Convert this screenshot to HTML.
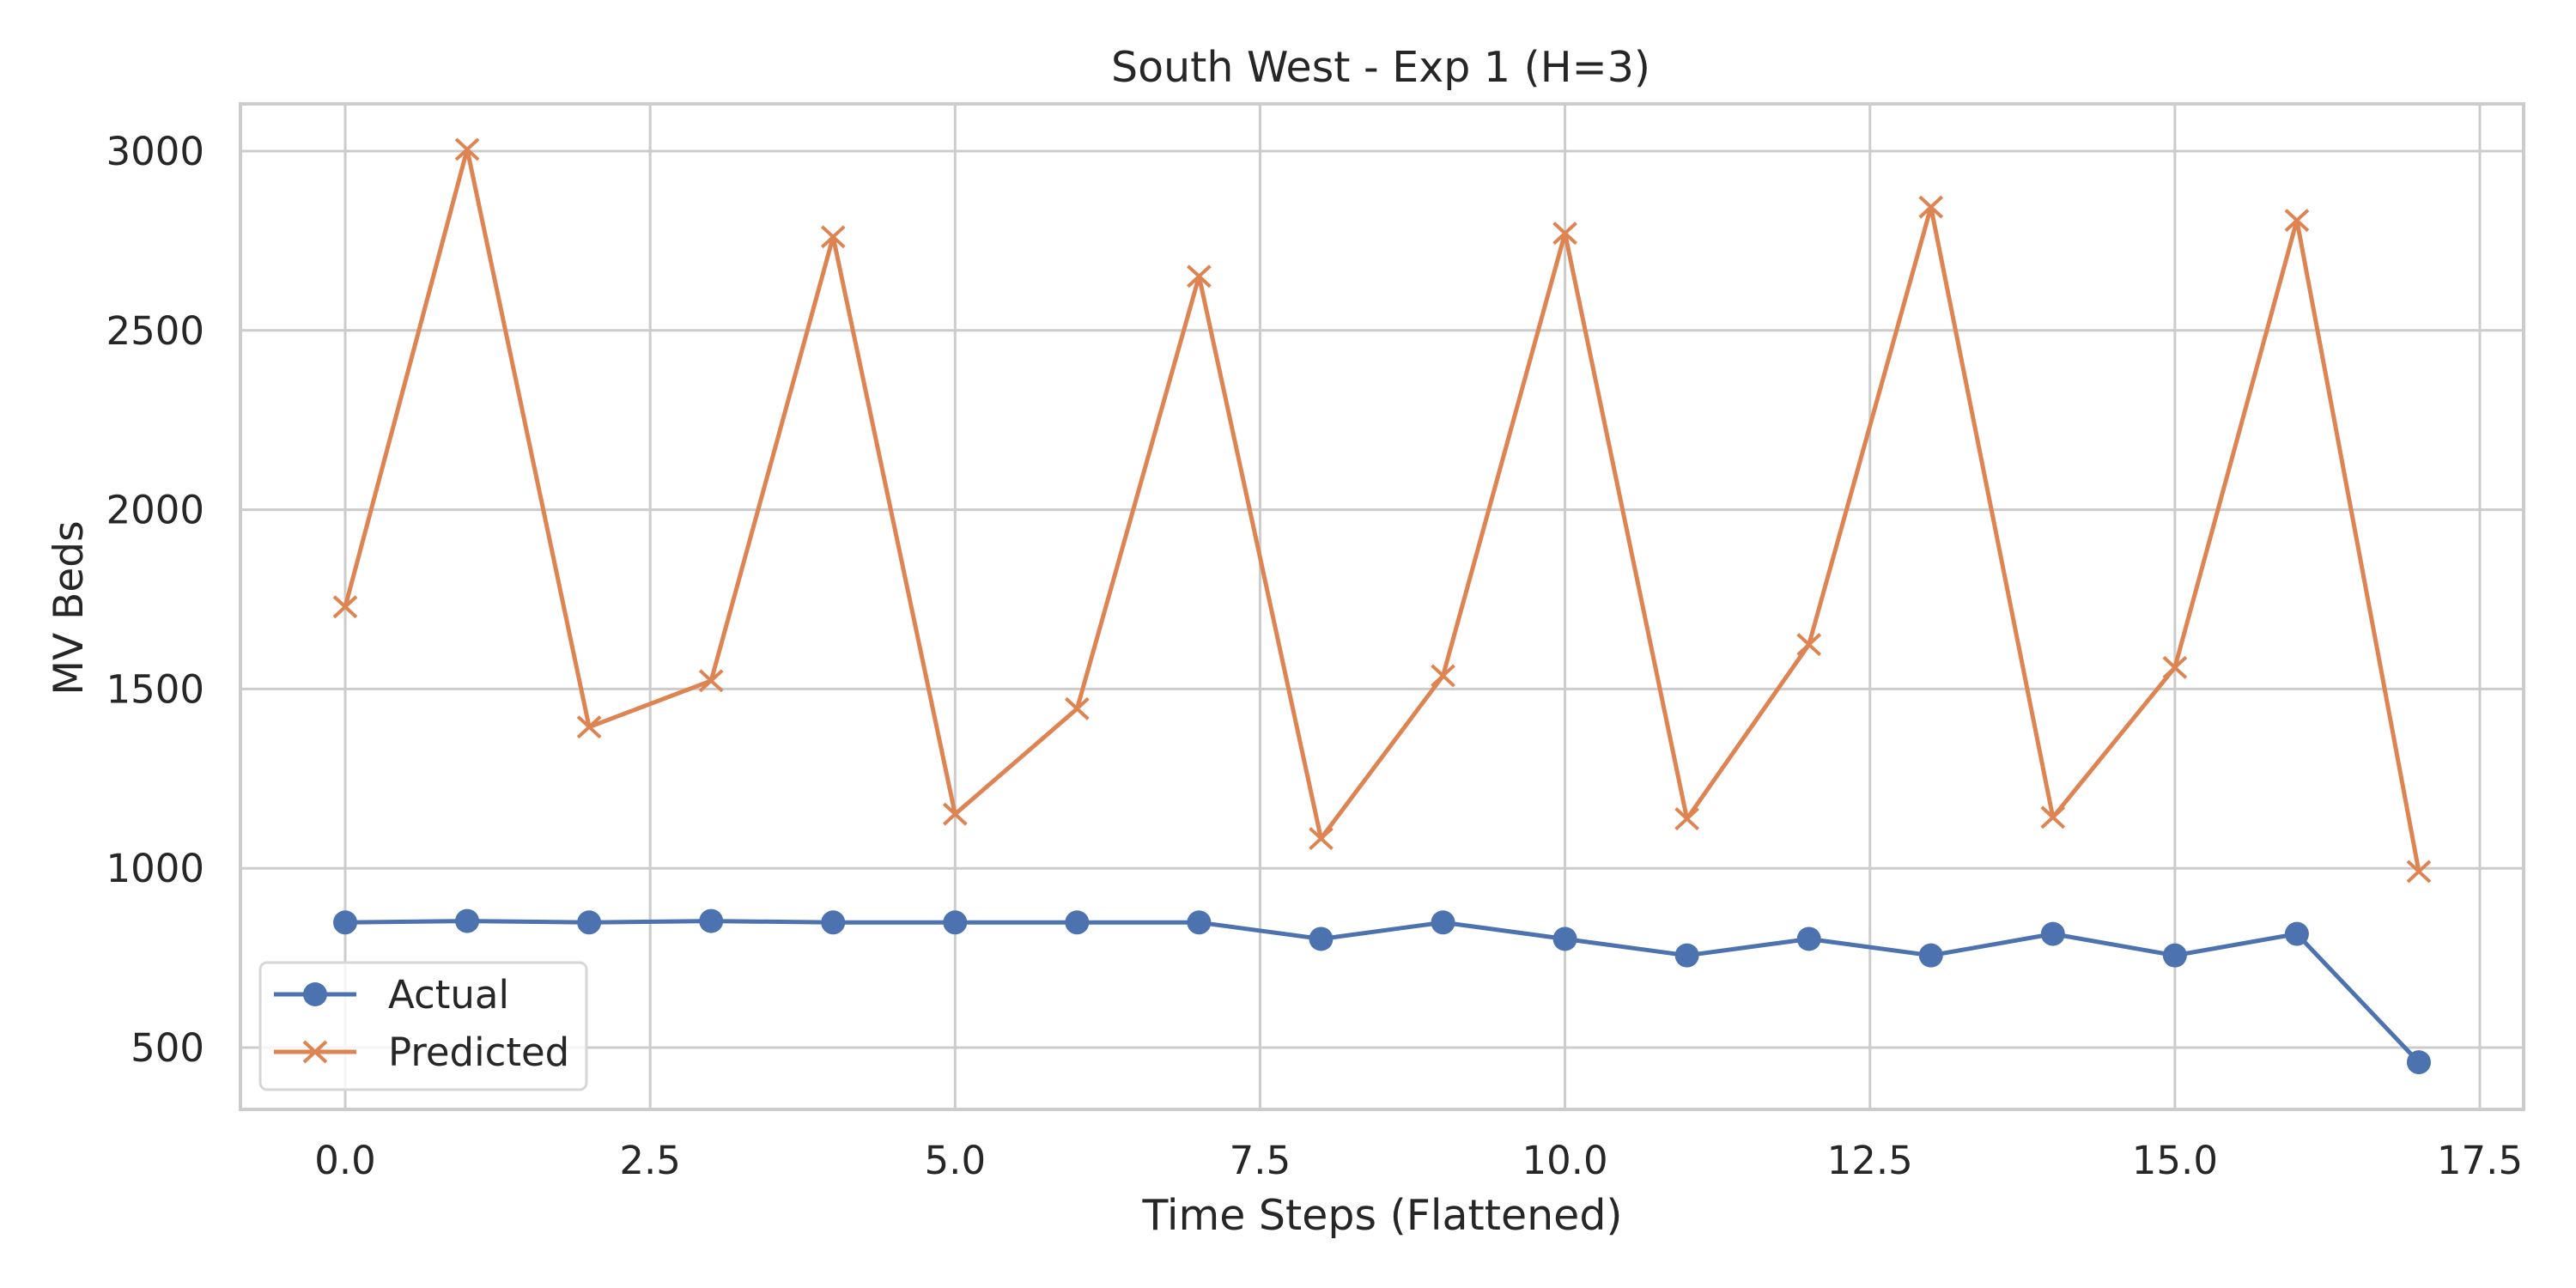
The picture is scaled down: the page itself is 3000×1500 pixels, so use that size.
<!DOCTYPE html>
<html><head><meta charset="utf-8"><style>
html,body{margin:0;padding:0;background:#fff;}
svg{display:block;font-family:"DejaVu Sans","Liberation Sans",sans-serif;}
</style></head><body>
<svg id="chart" width="3000" height="1500" viewBox="0 0 3000 1500" xmlns="http://www.w3.org/2000/svg">
<rect width="3000" height="1500" fill="#fff"/>
<text x="1608" y="95" font-size="49" text-anchor="middle" fill="#262626">South West - Exp 1 (H=3)</text>
<g id="grid"></g>
<g id="ticks"></g>
<rect x="280" y="121" width="2659" height="1171" fill="none" stroke="#cccccc" stroke-width="4"/>
<g id="series"></g>
<text x="1610" y="1432" font-size="49" text-anchor="middle" fill="#262626">Time Steps (Flattened)</text>
<text transform="translate(96,708) rotate(-90)" font-size="47" text-anchor="middle" fill="#262626">MV Beds</text>
<g>
<rect x="303" y="1121" width="380" height="148" rx="8" fill="#fff" fill-opacity="0.8" stroke="#d6d6d6" stroke-width="3"/>
<line x1="319" y1="1158" x2="415" y2="1158" stroke="#4c72b0" stroke-width="5"/>
<circle cx="367" cy="1158" r="14" fill="#4c72b0"/>
<text x="452" y="1174" font-size="45" fill="#262626">Actual</text>
<line x1="319" y1="1225" x2="415" y2="1225" stroke="#dd8452" stroke-width="5"/>
<path d="M354 1213 L380 1237 M354 1237 L380 1213" stroke="#dd8452" stroke-width="4"/>
<text x="452" y="1241" font-size="45" fill="#262626">Predicted</text>
</g>
</svg>
<script>
const steps = [0,1,2,3,4,5,6,7,8,9,10,11,12,13,14,15,16,17];
const actual = [849,853,849,853,849,849,849,849,803,849,803,757,803,757,817,757,817,459];
const predicted = [1729,3005,1394,1523,2761,1151,1445,2651,1083,1537,2771,1138,1624,2844,1142,1560,2807,991];
const xTicks = [0,2.5,5,7.5,10,12.5,15,17.5];
const xTickLabels = ["0.0","2.5","5.0","7.5","10.0","12.5","15.0","17.5"];
const yTicks = [500,1000,1500,2000,2500,3000];
const yTickLabels = ["500","1000","1500","2000","2500","3000"];

const NS = "http://www.w3.org/2000/svg";
const X0=280, X1=2939, Y0=121, Y1=1292;
const xMin=-0.859, xMax=17.859, yMin=327.6, yMax=3131.7;
const xs = v => X0 + (v - xMin) / (xMax - xMin) * (X1 - X0);
const ys = v => Y1 - (v - yMin) / (yMax - yMin) * (Y1 - Y0);
function mk(tag, attrs, parent){const e=document.createElementNS(NS,tag);for(const k in attrs)e.setAttribute(k,attrs[k]);parent.appendChild(e);return e;}
const grid=document.getElementById('grid'), ticks=document.getElementById('ticks'), series=document.getElementById('series');
xTicks.forEach((t,i)=>{
  const l=mk('line',{x1:xs(t),x2:xs(t),y1:Y0,y2:Y1,stroke:'#cccccc','stroke-width':3},grid);
  
  
  const tx=mk('text',{x:xs(t),y:1367,'font-size':45,'text-anchor':'middle',fill:'#262626'},ticks);
  
  
  tx.textContent=xTickLabels[i];
});
yTicks.forEach((t,i)=>{
  const l=mk('line',{x1:X0,x2:X1,y1:ys(t),y2:ys(t),stroke:'#cccccc','stroke-width':3},grid);
  
  
  const tx=mk('text',{x:238,y:ys(t)+16,'font-size':45,'text-anchor':'end',fill:'#262626'},ticks);
  
  
  tx.textContent=yTickLabels[i];
});
const pA=mk('polyline',{points:steps.map((s,i)=>xs(s)+','+ys(actual[i])).join(' '),fill:'none',stroke:'#4c72b0','stroke-width':5,'stroke-linejoin':'round'},series);


const pP=mk('polyline',{points:steps.map((s,i)=>xs(s)+','+ys(predicted[i])).join(' '),fill:'none',stroke:'#dd8452','stroke-width':5,'stroke-linejoin':'round'},series);


steps.forEach((s,i)=>{
  const c=mk('circle',{cx:xs(s),cy:ys(actual[i]),r:14,fill:'#4c72b0'},series);
  
  
  const x=xs(s), y=ys(predicted[i]);
  const m=mk('path',{d:`M${x-13} ${y-12} L${x+13} ${y+12} M${x-13} ${y+12} L${x+13} ${y-12}`,stroke:'#dd8452','stroke-width':4},series);
  
  
});
</script>
</body></html>
